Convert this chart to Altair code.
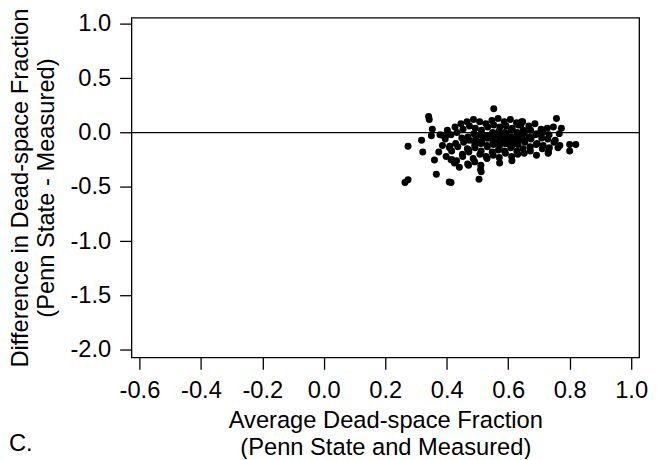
import altair as alt
import pandas as pd

# Bland-Altman style scatter: average vs difference of dead-space fraction
avg_vals = [
    0.264, 0.274, 0.274, 0.341, 0.343, 0.353, 0.350, 0.318, 0.322, 0.360, 0.366,
    0.414, 0.408, 0.414, 0.386, 0.398, 0.410, 0.553, 0.757, 0.773, 0.800, 0.820,
    0.800, 0.762, 0.730, 0.505, 0.441, 0.510, 0.417, 0.468, 0.644, 0.641,
    0.378, 0.386, 0.374,
    0.402, 0.395, 0.409, 0.398,
    0.427, 0.414, 0.429, 0.416, 0.425,
    0.446, 0.433, 0.449, 0.436, 0.451, 0.432,
    0.466, 0.453, 0.469, 0.455, 0.467, 0.452, 0.471,
    0.487, 0.474, 0.488, 0.473, 0.491, 0.472, 0.486,
    0.507, 0.493, 0.509, 0.494, 0.511, 0.492, 0.508, 0.491, 0.512,
    0.527, 0.513, 0.529, 0.514, 0.531, 0.512, 0.528, 0.511,
    0.547, 0.533, 0.549, 0.534, 0.551, 0.532, 0.548, 0.531,
    0.567, 0.553, 0.569, 0.554, 0.571, 0.552, 0.568, 0.551, 0.572,
    0.587, 0.573, 0.589, 0.574, 0.591, 0.572, 0.588, 0.571,
    0.607, 0.593, 0.609, 0.594, 0.611, 0.592, 0.608, 0.591, 0.612,
    0.627, 0.613, 0.629, 0.614, 0.631, 0.612, 0.628, 0.611,
    0.647, 0.633, 0.649, 0.634, 0.651, 0.632, 0.648, 0.631,
    0.667, 0.653, 0.669, 0.654, 0.671, 0.652,
    0.687, 0.673, 0.689, 0.674, 0.691, 0.672,
    0.707, 0.693, 0.709, 0.694, 0.711, 0.692,
    0.727, 0.713, 0.729, 0.714, 0.731,
    0.747, 0.733, 0.749, 0.734,
    0.766, 0.753, 0.768,
    0.531, 0.551, 0.571, 0.591, 0.611, 0.631, 0.491, 0.471, 0.651, 0.671,
    0.545, 0.585, 0.605, 0.565, 0.625, 0.525,
]
diff_vals = [
    -0.460, -0.435, -0.126, 0.147, 0.120, 0.030, -0.030, -0.070, -0.180, -0.253, -0.383,
    -0.460, -0.455, -0.250, -0.026, -0.026, -0.126, 0.220, 0.130, 0.040, -0.110, -0.110,
    -0.170, -0.140, -0.190, -0.430, -0.320, -0.340, -0.250, -0.290, 0.100, 0.070,
    -0.02, -0.12, -0.18,
    0.02, -0.06, -0.14, -0.22,
    0.05, -0.02, -0.10, -0.17, -0.28,
    0.08, 0.00, -0.05, -0.13, -0.20, -0.26,
    0.10, 0.03, -0.04, -0.09, -0.15, -0.22, -0.30,
    0.12, 0.06, -0.01, -0.07, -0.12, -0.18, -0.24,
    0.10, 0.04, -0.02, -0.06, -0.10, -0.14, -0.20, -0.27, -0.36,
    0.08, 0.02, -0.03, -0.08, -0.12, -0.17, -0.22, -0.30,
    0.11, 0.05, 0.00, -0.05, -0.09, -0.13, -0.18, -0.24,
    0.13, 0.07, 0.01, -0.03, -0.07, -0.11, -0.16, -0.21, -0.28,
    0.10, 0.05, 0.00, -0.04, -0.08, -0.12, -0.17, -0.23,
    0.12, 0.06, 0.02, -0.02, -0.06, -0.10, -0.14, -0.19, -0.26,
    0.09, 0.04, 0.00, -0.04, -0.08, -0.12, -0.17, -0.22,
    0.10, 0.07, 0.02, -0.03, -0.07, -0.11, -0.15, -0.20,
    0.06, 0.01, -0.04, -0.09, -0.14, -0.19,
    0.08, 0.02, -0.02, -0.06, -0.11, -0.17,
    0.03, -0.01, -0.05, -0.10, -0.15, -0.21,
    0.04, 0.00, -0.06, -0.12, -0.18,
    0.05, -0.02, -0.09, -0.14,
    -0.01, -0.07, -0.12,
    -0.05, -0.08, -0.02, -0.10, -0.04, -0.06, -0.09, -0.16, -0.01, -0.13,
    -0.035, -0.055, -0.075, -0.015, -0.095, -0.045,
]

x_ticks = [-0.6, -0.4, -0.2, 0.0, 0.2, 0.4, 0.6, 0.8, 1.0]
y_ticks = [-2.0, -1.5, -1.0, -0.5, 0.0, 0.5, 1.0]
ref_line = [0.0]

x_title = ["Average Dead-space Fraction", "(Penn State and Measured)"]
y_title = ["Difference in Dead-space Fraction", "(Penn State - Measured)"]
panel_label = ["C."]

FONT = "Liberation Sans"
FS = 24

df = pd.DataFrame({"avg": avg_vals, "diff": diff_vals})
ref_df = pd.DataFrame({"y": ref_line})
lab_df = pd.DataFrame({"t": panel_label})

label_expr = "datum.value < 0 ? '-' + format(-datum.value, '.1f') : format(datum.value, '.1f')"

xscale = alt.Scale(domain=[-0.626, 1.026], nice=False, zero=False)
yscale = alt.Scale(domain=[-2.070, 1.057], nice=False, zero=False)

points = alt.Chart(df).mark_circle(size=50, color="black", opacity=1).encode(
    x=alt.X("avg:Q", scale=xscale,
            axis=alt.Axis(values=x_ticks, title=x_title, labelExpr=label_expr,
                          domain=False, grid=False, ticks=True, tickSize=12,
                          tickColor="black", tickWidth=1.3, labelPadding=10,
                          labelFont=FONT, labelFontSize=FS, labelColor="black",
                          titleFont=FONT, titleFontSize=FS, titleFontWeight="normal",
                          titleColor="black", titlePadding=6, titleLineHeight=27,
                          labelFlush=False, labelOverlap=False)),
    y=alt.Y("diff:Q", scale=yscale,
            axis=alt.Axis(values=y_ticks, title=y_title, labelExpr=label_expr,
                          domain=False, grid=False, ticks=True, tickSize=12,
                          tickColor="black", tickWidth=1.3, labelPadding=9,
                          labelFont=FONT, labelFontSize=FS, labelColor="black",
                          titleFont=FONT, titleFontSize=FS, titleFontWeight="normal",
                          titleColor="black", titlePadding=12, titleLineHeight=26,
                          labelFlush=False, labelOverlap=False)),
)

rule = alt.Chart(ref_df).mark_rule(color="black", strokeWidth=1.3).encode(
    y=alt.Y("y:Q", scale=yscale)
)

label = alt.Chart(lab_df).mark_text(
    font=FONT, fontSize=FS, color="black", align="left", baseline="alphabetic"
).encode(
    text="t:N", x=alt.value(-124), y=alt.value(439)
)

chart = alt.layer(rule, points, label).properties(
    width=514, height=344,
    padding={"left": 125, "top": 7, "right": 10, "bottom": 100},
    autosize=alt.AutoSizeParams(type="none"),
).configure_view(
    stroke="black", strokeWidth=1.3
)

chart.save("out.html", embed_options={"renderer": "svg", "actions": False})
